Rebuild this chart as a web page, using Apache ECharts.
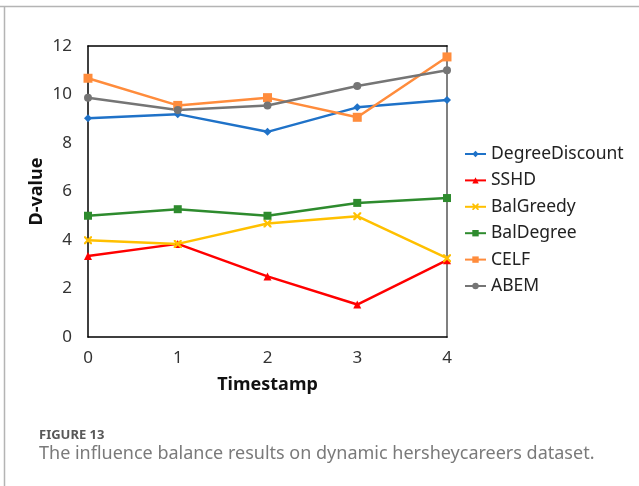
<!DOCTYPE html>
<html>
<head>
<meta charset="utf-8">
<script src="https://cdn.jsdelivr.net/npm/echarts@6/dist/echarts.min.js"></script>
<style>
html, body { margin: 0; padding: 0; background: #fff; }
#main { width: 639px; height: 486px; }
</style>
</head>
<body>
<div id="main"></div>
<script>
var timestamps = ['0', '1', '2', '3', '4'];
var degreeDiscount = [9.02, 9.19, 8.46, 9.47, 9.77];
var sshd = [3.34, 3.84, 2.50, 1.34, 3.17];
var balGreedy = [3.99, 3.84, 4.68, 4.98, 3.25];
var balDegree = [5.00, 5.27, 5.00, 5.53, 5.73];
var celf = [10.67, 9.55, 9.87, 9.06, 11.55];
var abem = [9.87, 9.36, 9.55, 10.35, 11.00];

var font = 'Noto Sans';
var xMark = 'path://M0,0 L2,0 L5,3 L8,0 L10,0 L10,2 L7,5 L10,8 L10,10 L8,10 L5,7 L2,10 L0,10 L0,8 L3,5 L0,2 Z';

function makeSeries(name, data, color, symbol, size) {
    return {
        name: name,
        type: 'line',
        data: data,
        symbol: symbol,
        symbolSize: size,
        lineStyle: { color: color, width: 2.5 },
        itemStyle: { color: color },
        emphasis: { disabled: true }
    };
}

var chart = echarts.init(document.getElementById('main'), null, { renderer: 'canvas' });

chart.setOption({
    animation: false,
    backgroundColor: '#fff',
    textStyle: { fontFamily: font },
    title: [
        {
            text: 'FIGURE 13',
            left: 34, top: 424,
            textStyle: { fontFamily: font, fontSize: 13, fontWeight: 'bold', color: '#595959' }
        },
        {
            text: 'The influence balance results on dynamic hersheycareers dataset.',
            left: 34, top: 440,
            textStyle: { fontFamily: font, fontSize: 18, fontWeight: 'normal', color: '#7a7a7a' }
        }
    ],
    graphic: [
        { type: 'line', shape: { x1: 0, y1: 6.5, x2: 639, y2: 6.5 }, style: { stroke: '#b4b4b4', lineWidth: 1.5 } },
        { type: 'line', shape: { x1: 4.5, y1: 6, x2: 4.5, y2: 486 }, style: { stroke: '#b4b4b4', lineWidth: 1.5 } }
    ],
    legend: {
        orient: 'vertical',
        left: 464, top: 145,
        padding: 0,
        itemWidth: 21, itemHeight: 8, itemGap: 8.4,
        textStyle: { fontFamily: font, fontSize: 17.5, color: '#222' },
        data: ['DegreeDiscount', 'SSHD', 'BalGreedy', 'BalDegree', 'CELF', 'ABEM']
    },
    grid: { left: 88, top: 46, right: 192, bottom: 149 },
    xAxis: [
        {
            type: 'category',
            data: timestamps,
            boundaryGap: false,
            name: 'Timestamp',
            nameLocation: 'middle',
            nameGap: 39,
            nameMoveOverlap: false,
            nameTextStyle: { fontFamily: font, fontSize: 18, fontWeight: 'bold', color: '#111' },
            axisLine: { onZero: false, lineStyle: { color: '#000', width: 1.5 } },
            axisTick: { show: false },
            axisLabel: { margin: 13, fontFamily: font, fontSize: 17, color: '#333' },
            splitLine: { show: false }
        },
        {
            type: 'category',
            data: timestamps,
            boundaryGap: false,
            position: 'top',
            axisLine: { onZero: false, lineStyle: { color: '#000', width: 1.5 } },
            axisTick: { show: false },
            axisLabel: { show: false },
            splitLine: { show: false }
        }
    ],
    yAxis: [
        {
            type: 'value',
            min: 0, max: 12, interval: 2,
            name: 'D-value',
            nameLocation: 'middle',
            nameGap: 42,
            nameMoveOverlap: false,
            nameTextStyle: { fontFamily: font, fontSize: 18, fontWeight: 'bold', color: '#111' },
            axisLine: { show: true, onZero: false, lineStyle: { color: '#000', width: 1.5 } },
            axisTick: { show: false },
            axisLabel: { margin: 16, fontFamily: font, fontSize: 17, color: '#333' },
            splitLine: { show: false }
        },
        {
            type: 'value',
            min: 0, max: 12, interval: 2,
            position: 'right',
            axisLine: { show: true, onZero: false, lineStyle: { color: '#808080', width: 2 } },
            axisTick: { show: false },
            axisLabel: { show: false },
            splitLine: { show: false }
        }
    ],
    series: [
        makeSeries('DegreeDiscount', degreeDiscount, '#1f72c8', 'diamond', 8),
        makeSeries('SSHD', sshd, '#ff0000', 'triangle', 8),
        makeSeries('BalGreedy', balGreedy, '#ffc000', xMark, 8),
        makeSeries('BalDegree', balDegree, '#2e8b2e', 'rect', 8),
        makeSeries('CELF', celf, '#ff8c3c', 'rect', 9),
        makeSeries('ABEM', abem, '#757575', 'circle', 8)
    ]
});
</script>
</body>
</html>
